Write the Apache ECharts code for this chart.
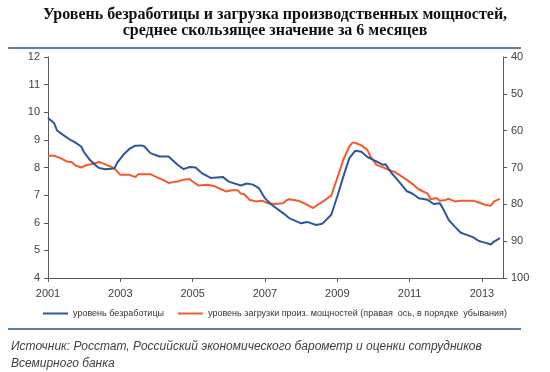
<!DOCTYPE html>
<html>
<head>
<meta charset="utf-8">
<script src="https://cdn.jsdelivr.net/npm/echarts@6/dist/echarts.min.js"></script>
<style>html,body{margin:0;padding:0;background:#fff}#c{width:550px;height:372px}</style>
</head>
<body>
<div id="c"></div>
<script>
// months since Jan 2001
var unempMonths = [0,2,3,5,7,9,11,12,14,16,17,19,22,23,25,27,29,31,32,34,37,40,43,45,47,49,51,54,56,58,60,64,66,68,70,72,74,78,80,84,86,89,91,94,96,98,100,102,104,106,109,111,112,114,116,119,121,123,126,128,130,131,133,135,137,139,141,143,145,147,148,150];
var unempValues = [9.79,9.61,9.34,9.18,9.03,8.91,8.76,8.55,8.26,8.06,7.98,7.94,7.96,8.18,8.46,8.67,8.79,8.80,8.76,8.52,8.40,8.40,8.10,7.94,8.02,8.00,7.80,7.62,7.64,7.66,7.49,7.35,7.42,7.38,7.25,6.89,6.67,6.35,6.17,5.98,6.03,5.92,5.96,6.29,6.95,7.67,8.34,8.61,8.57,8.38,8.22,8.10,8.12,7.80,7.55,7.15,7.05,6.89,6.83,6.68,6.71,6.53,6.10,5.86,5.64,5.56,5.48,5.34,5.28,5.21,5.32,5.44];
var capMonths = [0,2,4,6,8,9,11,13,15,17,18,20,22,24,27,29,30,34,36,38,40,42,43,45,47,48,50,53,55,58,59,61,63,64,65,67,69,71,73,75,78,79,80,83,85,88,89,90,92,94,96,98,100,101,102,104,106,107,109,111,113,115,117,119,121,123,126,127,129,130,132,133,135,137,139,141,143,145,147,148,150];
var capValues = [66.8,66.8,67.4,68.3,68.6,69.4,70.0,69.3,69.0,68.5,68.8,69.5,70.2,72.0,72.0,72.6,71.8,71.8,72.6,73.3,74.2,73.9,73.8,73.3,73.1,73.8,74.9,74.7,75.0,76.1,76.5,76.2,76.2,77.1,77.2,78.8,79.2,79.0,79.7,79.9,79.7,79.0,78.6,79.0,79.7,81.0,80.4,79.9,78.8,77.6,72.9,67.9,64.3,63.3,63.3,64.0,65.2,67.0,69.3,69.9,70.6,71.2,72.2,73.3,74.5,75.9,77.1,78.6,78.3,79.0,78.8,78.5,79.2,79.0,79.0,79.0,79.5,80.1,80.4,79.2,78.5];
var startYear = 2001;
var titleText = 'Уровень безработицы и загрузка производственных мощностей,\nсреднее скользящее значение за 6 месяцев';
var sourceText = 'Источник: Росстат, Российский экономического барометр и оценки сотрудников\nВсемирного банка';
var seriesNames = ['уровень безработицы', 'уровень загрузки произ. мощностей (правая  ось, в порядке  убывания)'];

function pairs(xs, ys){ return xs.map(function(x,i){ return [x, ys[i]]; }); }

var blue = '#2D579C', orange = '#F45A2A', axisCol = '#595959', labelCol = '#404040';
var chart = echarts.init(document.getElementById('c'));
chart.setOption({
  animation: false,
  title: [{
    text: titleText, left: 'center', top: 2,
    textStyle: {fontFamily: 'Liberation Serif', fontWeight: 'bold', fontSize: 16, color: '#111', lineHeight: 16}
  }, {
    text: sourceText, left: 6, top: 333,
    textStyle: {fontFamily: 'Liberation Sans', fontStyle: 'italic', fontWeight: 'normal', fontSize: 12, color: '#404040', lineHeight: 17}
  }],
  graphic: [
    {type: 'line', shape: {x1: 8, y1: 48, x2: 521, y2: 48}, style: {stroke: '#5f7f9e', lineWidth: 2}},
    {type: 'line', shape: {x1: 8, y1: 329, x2: 521, y2: 329}, style: {stroke: '#5f7f9e', lineWidth: 2}}
  ],
  legend: {
    top: 304, left: 'center', itemWidth: 25, itemHeight: 2, itemGap: 14, icon: 'rect',
    textStyle: {fontFamily: 'Liberation Sans', fontSize: 9, color: '#333'},
    data: seriesNames
  },
  grid: {left: 48, right: 47, top: 57, bottom: 94},
  xAxis: {
    type: 'value', min: 0, max: 151, interval: 24,
    axisLine: {lineStyle: {color: axisCol, width: 1}},
    axisTick: {show: true, length: 4, lineStyle: {color: axisCol}},
    splitLine: {show: false},
    axisLabel: {
      color: labelCol, fontFamily: 'Liberation Sans', fontSize: 11, margin: 10, showMaxLabel: false,
      formatter: function(v){ return v % 24 === 0 ? String(startYear + v/12) : ''; }
    }
  },
  yAxis: [{
    type: 'value', min: 4, max: 12, interval: 1, position: 'left',
    axisLine: {show: true, lineStyle: {color: axisCol}},
    axisTick: {show: true, length: 4, lineStyle: {color: axisCol}},
    splitLine: {show: false},
    axisLabel: {color: labelCol, fontFamily: 'Liberation Sans', fontSize: 11, margin: 8}
  }, {
    type: 'value', min: 40, max: 100, interval: 10, position: 'right', inverse: true,
    axisLine: {show: true, lineStyle: {color: axisCol}},
    axisTick: {show: true, length: 4, lineStyle: {color: axisCol}},
    splitLine: {show: false},
    axisLabel: {color: labelCol, fontFamily: 'Liberation Sans', fontSize: 11, margin: 8}
  }],
  series: [{
    name: seriesNames[0], type: 'line', yAxisIndex: 0, data: pairs(unempMonths, unempValues),
    showSymbol: false, lineStyle: {color: blue, width: 2}, itemStyle: {color: blue}, z: 3
  }, {
    name: seriesNames[1], type: 'line', yAxisIndex: 1, data: pairs(capMonths, capValues),
    showSymbol: false, lineStyle: {color: orange, width: 2}, itemStyle: {color: orange}, z: 2
  }]
});
</script>
</body>
</html>
